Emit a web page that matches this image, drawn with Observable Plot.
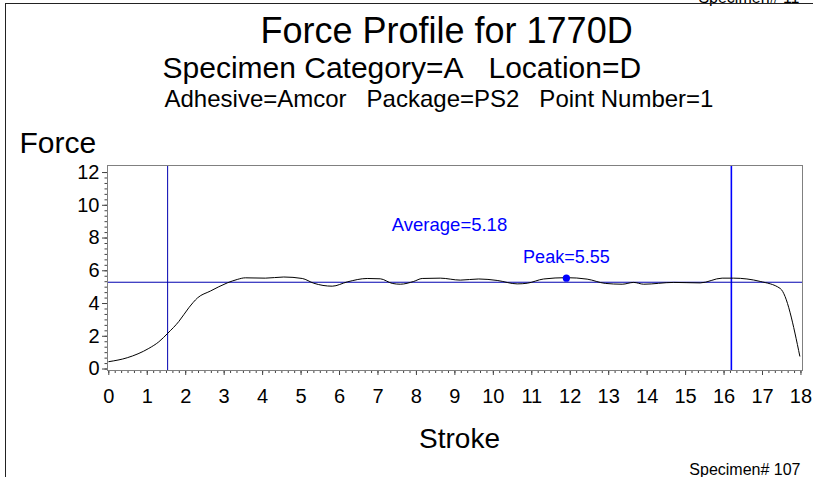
<!DOCTYPE html>
<html><head><meta charset="utf-8">
<script src="https://cdn.jsdelivr.net/npm/d3@7"></script>
<script src="https://cdn.jsdelivr.net/npm/@observablehq/plot@0.6"></script>
<style>
body{margin:0;background:#fff;}
#wrap{position:relative;width:813px;height:477px;overflow:hidden;}
#border{position:absolute;left:4.5px;top:3px;width:830px;height:490px;border-top:1.5px solid #222;border-left:1.5px solid #222;pointer-events:none;}
</style></head><body><div id="wrap"><div id="chart"></div><div id="border"></div></div>
<script>
// Data
const strokeX = [0, 0.48, 1.04, 1.3, 1.54, 1.82, 2.08, 2.31, 2.64, 3.08, 3.34, 3.55, 4.07, 4.55, 5.03, 5.33, 5.81, 6.2, 6.72, 7.06, 7.37, 7.58, 7.93, 8.15, 8.62, 9.14, 9.62, 10.1, 10.62, 10.88, 11.31, 11.9, 12.44, 12.91, 13.35, 13.65, 13.91, 14.69, 15.38, 15.95, 16.25, 16.94, 17.46, 17.97];
const forceY = [0.45, 0.69, 1.26, 1.66, 2.2, 2.9, 3.74, 4.35, 4.76, 5.26, 5.47, 5.57, 5.55, 5.62, 5.53, 5.24, 5.06, 5.32, 5.53, 5.51, 5.23, 5.18, 5.35, 5.53, 5.55, 5.43, 5.5, 5.41, 5.2, 5.24, 5.5, 5.58, 5.49, 5.23, 5.18, 5.29, 5.18, 5.29, 5.26, 5.55, 5.55, 5.35, 4.92, 0.79];
const xTicks = [0,1,2,3,4,5,6,7,8,9,10,11,12,13,14,15,16,17,18];
const yTicks = [0,2,4,6,8,10,12];
const startStroke = 1.53;
const endStroke = 16.19;
const averageLine = 5.3;
const averageText = "Average=5.18";
const peakStroke = 11.9;
const peakForce = 5.55;
const peakText = "Peak=5.55";
const titleText = "Force Profile for 1770D";
const subtitleText = "Specimen Category=A\u00a0\u00a0\u00a0Location=D";
const subtitle2Text = "Adhesive=Amcor\u00a0\u00a0\u00a0Package=PS2\u00a0\u00a0\u00a0Point Number=1";
const footText = "Specimen# 107";
const topText = "Specimen# 11";

const table = strokeX.map((x, i) => ({stroke: x, force: forceY[i]}));
const xMinor = d3.range(0, 18 * 6 + 1).map(i => i / 6);
const yMinor = d3.range(0, 12 * 3 + 1).map(i => i / 3);
const blueDark = "#0000b0", blue = "#0000ff", font = "Liberation Sans, Arial, Helvetica, sans-serif";

const chart = Plot.plot({
  width: 813, height: 477,
  marginLeft: 107, marginRight: 11, marginTop: 165, marginBottom: 107,
  style: {fontFamily: font, background: "white", color: "black"},
  x: {domain: [-0.034, 18.04], axis: null},
  y: {domain: [-0.09, 12.43], axis: null},
  marks: [
    Plot.axisX(xMinor, {tickSize: 3, tickFormat: () => "", stroke: "#444", label: null}),
    Plot.axisY(yMinor, {tickSize: 2.5, tickFormat: () => "", stroke: "#444", label: null}),
    Plot.axisX(xTicks, {tickSize: 5, tickPadding: 13, fontSize: 20, stroke: "#444", fill: "black", label: null}),
    Plot.axisY(yTicks, {tickSize: 5, tickPadding: 3, fontSize: 20, stroke: "#444", fill: "black", label: null}),
    Plot.ruleX([startStroke], {stroke: blueDark, strokeWidth: 1}),
    Plot.ruleX([endStroke], {stroke: blue, strokeWidth: 1.6}),
    Plot.ruleY([averageLine], {stroke: blueDark, strokeWidth: 1}),
    Plot.line(table, {x: "stroke", y: "force", curve: "monotone-x", stroke: "black", strokeWidth: 1}),
    Plot.dot([{x: peakStroke, y: peakForce}], {x: "x", y: "y", r: 3.6, fill: blue, stroke: null}),
    Plot.text([peakText], {x: () => peakStroke, y: () => peakForce, text: d => d, dy: -21, lineAnchor: "middle", fontSize: 18, fill: blue}),
    Plot.text([averageText], {x: () => (startStroke + endStroke) / 2, y: () => averageLine, text: d => d, dy: -57, lineAnchor: "middle", fontSize: 18.5, fill: blue}),
    Plot.frame({stroke: "#808080"}),
    Plot.text([titleText], {frameAnchor: "top-left", text: d => d, textAnchor: "start", lineAnchor: "bottom", dx: 153, dy: -123, fontSize: 36, fill: "black"}),
    Plot.text([subtitleText], {frameAnchor: "top-left", text: d => d, textAnchor: "start", lineAnchor: "bottom", dx: 55, dy: -88, fontSize: 30, fill: "black"}),
    Plot.text([subtitle2Text], {frameAnchor: "top-left", text: d => d, textAnchor: "start", lineAnchor: "bottom", dx: 57, dy: -59, fontSize: 24, fill: "black"}),
    Plot.text(["Force"], {frameAnchor: "top-left", text: d => d, textAnchor: "start", lineAnchor: "bottom", dx: -88, dy: -13, fontSize: 30, fill: "black"}),
    Plot.text(["Stroke"], {frameAnchor: "bottom", text: d => d, lineAnchor: "bottom", dx: 4.5, dy: 77, fontSize: 28, fill: "black"}),
    Plot.text([footText], {frameAnchor: "bottom-right", text: d => d, textAnchor: "end", lineAnchor: "bottom", dx: -2, dy: 104, fontSize: 16, fill: "black"}),
    Plot.text([topText], {frameAnchor: "top-right", text: d => d, textAnchor: "end", lineAnchor: "bottom", dx: -3, dy: -163, fontSize: 16, fill: "black"})
  ]
});
document.getElementById("chart").appendChild(chart);
</script></body></html>
